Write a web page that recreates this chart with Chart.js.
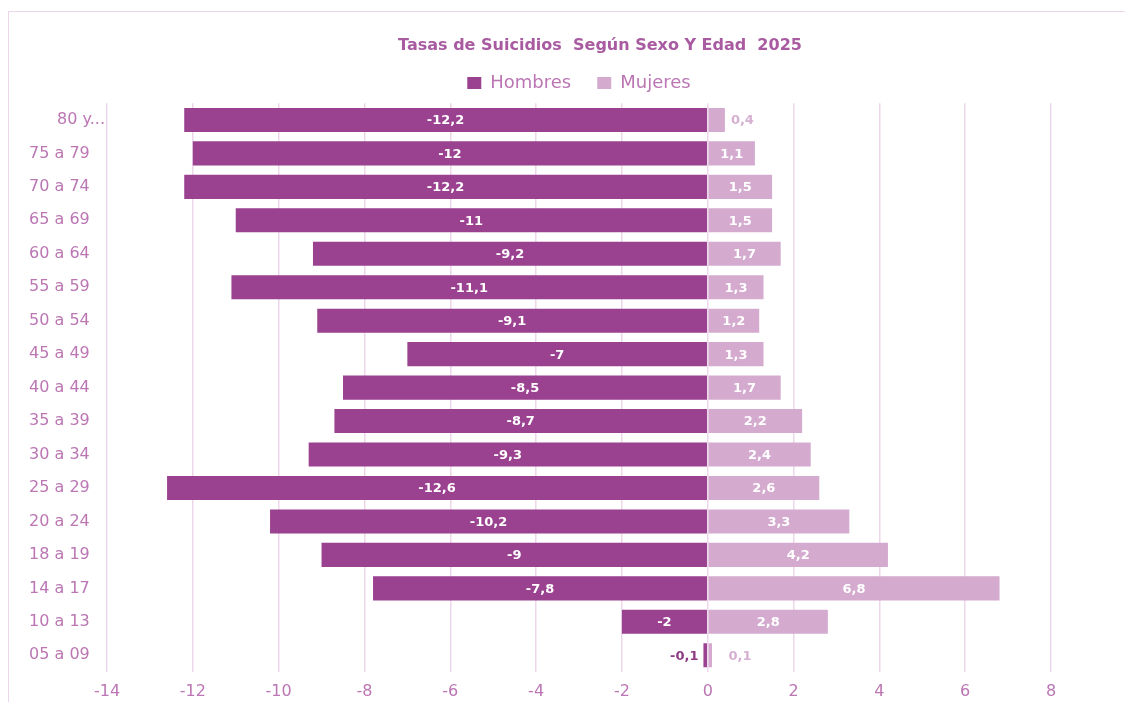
<!DOCTYPE html>
<html><head><meta charset="utf-8">
<script src="https://cdn.jsdelivr.net/npm/chart.js@4.4.1/dist/chart.umd.min.js"></script>
<style>
html,body{margin:0;padding:0;background:#fff;overflow:hidden;width:1125px;height:702px}
#frame{position:absolute;left:8px;top:11px;width:1300px;height:900px;border:1.5px solid #ecd6ea;box-sizing:border-box}
#wrap{position:absolute;left:0;top:0;width:1125px;height:702px}
</style></head><body>
<div id="frame"></div>
<div id="wrap"><canvas id="c"></canvas></div>
<script>
const titleText = 'Tasas de Suicidios  Según Sexo Y Edad  2025';
const categories = ['80 y...','75 a 79','70 a 74','65 a 69','60 a 64','55 a 59','50 a 54','45 a 49','40 a 44','35 a 39','30 a 34','25 a 29','20 a 24','18 a 19','14 a 17','10 a 13','05 a 09'];
const hombres = [-12.2,-12,-12.2,-11,-9.2,-11.1,-9.1,-7,-8.5,-8.7,-9.3,-12.6,-10.2,-9,-7.8,-2,-0.1];
const mujeres = [0.4,1.1,1.5,1.5,1.7,1.3,1.2,1.3,1.7,2.2,2.4,2.6,3.3,4.2,6.8,2.8,0.1];
const xTicks = [-14,-12,-10,-8,-6,-4,-2,0,2,4,6,8];

const C_H = '#9a4190';
const C_M = '#d4abcf';
const TXT = '#bb76b3';
const FONT = '"DejaVu Sans", sans-serif';

const fmt = v => String(v).replace('.', ',');

const barLabels = {
  id: 'barLabels',
  afterDatasetsDraw(chart) {
    const ctx = chart.ctx;
    ctx.save();
    ctx.font = 'bold 13px ' + FONT;
    ctx.textBaseline = 'middle';
    chart.data.datasets.forEach((ds, di) => {
      const meta = chart.getDatasetMeta(di);
      meta.data.forEach((bar, i) => {
        const v = ds.data[i];
        const txt = fmt(v);
        const w = ctx.measureText(txt).width;
        const len = Math.abs(bar.x - bar.base);
        if (len > w + 8) {
          ctx.fillStyle = '#ffffff';
          ctx.textAlign = 'center';
          ctx.fillText(txt, (bar.x + bar.base) / 2, bar.y + 1);
        } else if (v < 0) {
          ctx.fillStyle = '#8e3a85';
          ctx.textAlign = 'right';
          ctx.fillText(txt, Math.min(bar.x, bar.base) - 5, bar.y + 1);
        } else {
          ctx.fillStyle = '#d6b0d1';
          ctx.textAlign = 'left';
          ctx.fillText(txt, Math.max(Math.max(bar.x, bar.base) + 6, bar.base + 20), bar.y + 1);
        }
      });
    });
    ctx.restore();
  }
};

const placeHeader = {
  id: 'placeHeader',
  afterLayout(chart) {
    const t = chart.titleBlock, l = chart.legend, ca = chart.chartArea;
    if (t) { const h = t.bottom - t.top; t.left = 0; t.right = 1200; t.width = 1200; t.top = 36; t.bottom = 36 + h; }
    if (l) { const h = l.bottom - l.top; l.left = ca.left; l.right = ca.right; l.width = ca.right - ca.left; l.top = 83 - 9 - 26; l.bottom = l.top + h; }
  }
};

new Chart(document.getElementById('c'), {
  type: 'bar',
  data: {
    labels: categories,
    datasets: [
      { label: 'Hombres', data: hombres, backgroundColor: C_H, borderWidth: 0 },
      { label: 'Mujeres', data: mujeres, backgroundColor: C_M, borderWidth: 0 }
    ]
  },
  options: {
    indexAxis: 'y',
    responsive: true,
    maintainAspectRatio: false,
    animation: false,
    devicePixelRatio: 1,
    layout: { padding: { top: 30, left: 0, right: 74, bottom: 0 } },
    datasets: { bar: { barPercentage: 0.72, categoryPercentage: 1 } },
    plugins: {
      title: {
        display: true, text: titleText, color: '#a95ba1',
        font: { family: FONT, size: 16, weight: 'bold' },
        padding: { top: 0, bottom: 0 }
      },
      legend: {
        display: true, position: 'top',
        labels: {
          color: TXT, font: { family: FONT, size: 18 },
          boxWidth: 14, boxHeight: 12, padding: 26
        }
      },
      tooltip: { enabled: false }
    },
    scales: {
      x: {
        stacked: true, min: -14, max: 8,
        afterBuildTicks(scale) { scale.ticks = xTicks.map(v => ({ value: v })); },
        afterFit(scale) { scale.height = 30; },
        grid: { color: '#edd7eb', lineWidth: 1.5, drawTicks: false },
        border: { display: false },
        ticks: { color: TXT, font: { family: FONT, size: 16 }, padding: 10, callback: v => String(v) }
      },
      y: {
        stacked: true,
        afterFit(scale) { scale.width = 107; },
        grid: { display: false, drawTicks: false },
        border: { display: false },
        ticks: {
          color: TXT, font: { family: FONT, size: 16 }, padding: 2,
          callback(v, i) { const s = categories[i]; return s.endsWith('...') ? s : s + '   '; }
        }
      }
    }
  },
  plugins: [barLabels, placeHeader]
});
</script>
</body></html>
